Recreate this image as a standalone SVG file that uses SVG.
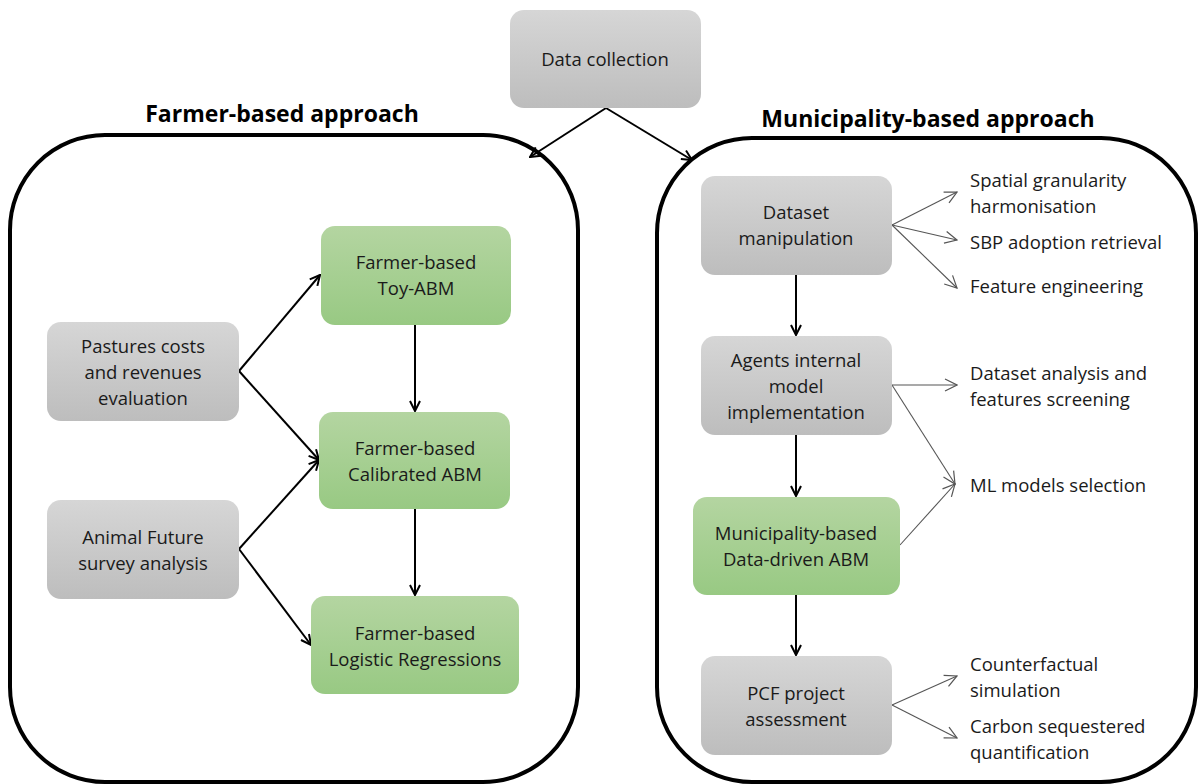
<svg xmlns="http://www.w3.org/2000/svg" width="1198" height="784" viewBox="0 0 1198 784">
<defs>
<linearGradient id="gGray" x1="0" y1="0" x2="0" y2="1"><stop offset="0" stop-color="#d6d6d6"/><stop offset="1" stop-color="#bdbdbd"/></linearGradient>
<linearGradient id="gGreen" x1="0" y1="0" x2="0" y2="1"><stop offset="0" stop-color="#b4d5a1"/><stop offset="1" stop-color="#98c983"/></linearGradient>
<marker id="ah" viewBox="0 0 12 12" refX="11" refY="6" markerWidth="12" markerHeight="12" markerUnits="userSpaceOnUse" orient="auto"><path d="M1,1 L11,6 L1,11" fill="none" stroke="#000" stroke-width="2"/></marker>
<marker id="ahThin" viewBox="0 0 14 14" refX="13" refY="7" markerWidth="14" markerHeight="14" markerUnits="userSpaceOnUse" orient="auto"><path d="M1,1 L13,7 L1,13" fill="none" stroke="#555" stroke-width="1.2"/></marker>
</defs>
<style>
.gray{fill:url(#gGray);}
.green{fill:url(#gGreen);}
.t{font-family:"Open Sans","Liberation Sans",sans-serif;font-size:18.5px;fill:#1a1a1a;text-anchor:middle;}
.lbl{font-family:"Open Sans","Liberation Sans",sans-serif;font-size:18.5px;fill:#1a1a1a;}
.title{font-family:"Open Sans","Liberation Sans",sans-serif;font-size:23px;font-weight:bold;fill:#000;text-anchor:middle;}
.frame{fill:none;stroke:#000;stroke-width:4;}
.main{fill:none;stroke:#000;stroke-width:2;marker-end:url(#ah);}
.thin{fill:none;stroke:#555;stroke-width:1.1;marker-end:url(#ahThin);}
</style>
<rect width="1198" height="784" fill="#fff"/>

<g id="farmer-frame">
<rect class="frame" x="10" y="135" width="568" height="647" rx="95" ry="95"/>
<text class="title" x="282" y="122">Farmer-based approach</text>
</g>
<g id="municipality-frame">
<rect class="frame" x="657" y="138" width="539" height="644" rx="95" ry="95"/>
<text class="title" x="928" y="127">Municipality-based approach</text>
</g>

<g id="connectors">
<path class="main" d="M606,108 L530,157"/>
<path class="main" d="M606,108 L692,160"/>
<path class="main" d="M239,371 L320,275"/>
<path class="main" d="M239,371 L319,460"/>
<path class="main" d="M239,549 L319,460"/>
<path class="main" d="M239,549 L311,645"/>
<path class="main" d="M415,325 L415,411"/>
<path class="main" d="M415,509 L415,595"/>
<path class="main" d="M796,275 L796,335"/>
<path class="main" d="M796,435 L796,496"/>
<path class="main" d="M796,595 L796,655"/>
<path class="thin" d="M892,225 L957,192"/>
<path class="thin" d="M892,225 L957,240"/>
<path class="thin" d="M892,225 L957,288"/>
<path class="thin" d="M892,385 L957,385"/>
<path class="thin" d="M892,385 L955,484"/>
<path class="thin" d="M900,545 L955,484"/>
<path class="thin" d="M892,705 L957,676"/>
<path class="thin" d="M892,705 L957,738"/>
</g>

<g id="data-collection">
<rect class="gray" x="510" y="10" width="191" height="98" rx="14"/>
<text class="t" x="605" y="66">Data collection</text>
</g>
<g id="pastures">
<rect class="gray" x="47" y="322" width="192" height="99" rx="14"/>
<text class="t" x="143" y="353">Pastures costs</text>
<text class="t" x="143" y="379">and revenues</text>
<text class="t" x="143" y="405">evaluation</text>
</g>
<g id="animal-future">
<rect class="gray" x="47" y="500" width="192" height="99" rx="14"/>
<text class="t" x="143" y="544">Animal Future</text>
<text class="t" x="143" y="570">survey analysis</text>
</g>
<g id="toy-abm">
<rect class="green" x="321" y="226" width="190" height="99" rx="14"/>
<text class="t" x="416" y="269">Farmer-based</text>
<text class="t" x="416" y="295">Toy-ABM</text>
</g>
<g id="calibrated-abm">
<rect class="green" x="319" y="412" width="191" height="97" rx="14"/>
<text class="t" x="415" y="455">Farmer-based</text>
<text class="t" x="415" y="481">Calibrated ABM</text>
</g>
<g id="logistic">
<rect class="green" x="311" y="596" width="208" height="98" rx="14"/>
<text class="t" x="415" y="640">Farmer-based</text>
<text class="t" x="415" y="666">Logistic Regressions</text>
</g>
<g id="dataset-manipulation">
<rect class="gray" x="701" y="176" width="191" height="99" rx="14"/>
<text class="t" x="796" y="219">Dataset</text>
<text class="t" x="796" y="245">manipulation</text>
</g>
<g id="agents-internal">
<rect class="gray" x="701" y="336" width="191" height="99" rx="14"/>
<text class="t" x="796" y="367">Agents internal</text>
<text class="t" x="796" y="393">model</text>
<text class="t" x="796" y="419">implementation</text>
</g>
<g id="municipality-abm">
<rect class="green" x="693" y="497" width="207" height="98" rx="14"/>
<text class="t" x="796" y="540">Municipality-based</text>
<text class="t" x="796" y="566">Data-driven ABM</text>
</g>
<g id="pcf">
<rect class="gray" x="701" y="656" width="191" height="99" rx="14"/>
<text class="t" x="796" y="700">PCF project</text>
<text class="t" x="796" y="726">assessment</text>
</g>

<g id="labels">
<text class="lbl" x="970" y="187">Spatial granularity</text>
<text class="lbl" x="970" y="213">harmonisation</text>
<text class="lbl" x="970" y="249">SBP adoption retrieval</text>
<text class="lbl" x="970" y="293">Feature engineering</text>
<text class="lbl" x="970" y="380">Dataset analysis and</text>
<text class="lbl" x="970" y="406">features screening</text>
<text class="lbl" x="970" y="492">ML models selection</text>
<text class="lbl" x="970" y="671">Counterfactual</text>
<text class="lbl" x="970" y="697">simulation</text>
<text class="lbl" x="970" y="733">Carbon sequestered</text>
<text class="lbl" x="970" y="759">quantification</text>
</g>
</svg>
